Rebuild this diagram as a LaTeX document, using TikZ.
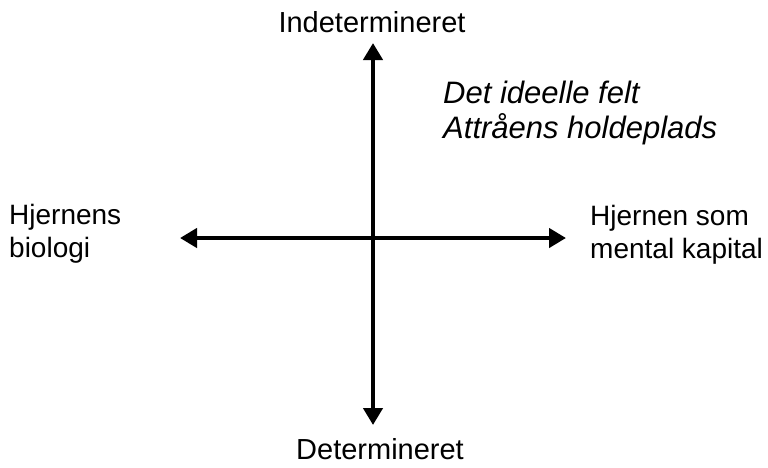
\documentclass[tikz,border=0pt]{standalone}
\usepackage{fontspec}
\setmainfont{Liberation Sans}
\usetikzlibrary{arrows.meta,positioning}
\tikzset{
  every picture/.style={draw=black, text=black},
  axis/.style={line width=4.5pt, {Triangle[length=17pt,width=19pt]}-{Triangle[length=17pt,width=19pt]}},
  lbl/.style={inner sep=0pt, font=\fontsize{28}{33}\selectfont},
  pole/.style={lbl, anchor=base, font=\fontsize{29}{33}\selectfont},
}

\begin{document}
\begin{tikzpicture}[x=1pt, y=-1pt]
\useasboundingbox (0,0) rectangle (768,467);
% Axis end points
\coordinate (top) at (373,43);
\coordinate (bottom) at (373,425);
\coordinate (left) at (180,238);
\coordinate (right) at (566,238);
% The two axes
\draw[axis] (top) -- (bottom);
\draw[axis] (left) -- (right);
% Pole labels
\node[pole] (indet) at (372,32) {Indetermineret};
\node[pole] (det) at (380,459) {Determineret};
\node[lbl, anchor=base west, align=left] (bio) at (9,257) {Hjernens\\biologi};
\node[lbl, anchor=base west, align=left] (kapital) at (590,258) {Hjernen som\\mental kapital};
% Upper right field
\node[lbl, anchor=base west, align=left, font=\fontsize{31}{35}\selectfont\itshape] (felt) at (443,138) {Det ideelle felt\\Attråens holdeplads};
\end{tikzpicture}
\end{document}
